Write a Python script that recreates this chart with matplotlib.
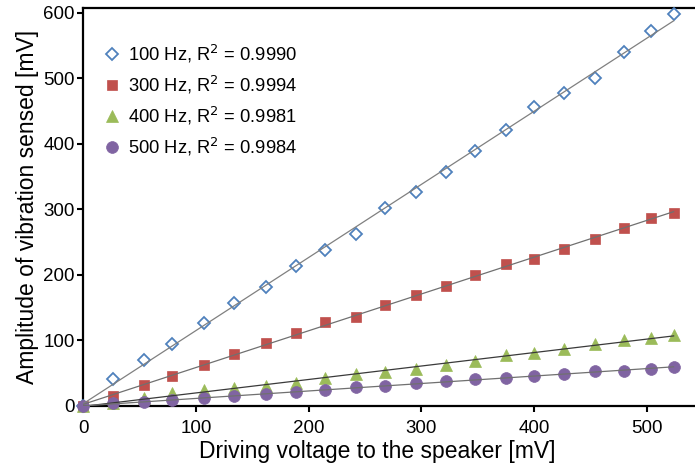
import numpy as np
from matplotlib import pyplot as plt

plt.rcParams['font.family'] = ['Liberation Sans', 'DejaVu Sans']

# driving voltage [mV]
volts = [0, 26, 54, 79, 107, 134, 162, 189, 215, 242, 268,
         295, 322, 348, 375, 400, 427, 454, 480, 504, 524]

# sensed amplitude [mV]
amp_100 = [0, 40.3, 69.3, 93.7, 125.8, 157.3, 181.7, 213.3, 237.3, 261.7, 301.8,
           325.8, 356.8, 388.9, 421.0, 455.6, 476.9, 500.8, 540.5, 572.5, 598.0]
amp_300 = [0, 15.3, 31.1, 45.8, 61.7, 78.5, 95.3, 111.0, 127.3, 135.9, 154.2,
           169.0, 182.7, 199.5, 215.9, 224.0, 238.8, 255.0, 270.8, 287.0, 294.7]
amp_400 = [0, 4.0, 12.0, 19.0, 24.0, 26.5, 30.0, 35.0, 43.0, 48.0, 51.5,
           56.5, 63.0, 69.0, 78.0, 81.0, 87.0, 94.0, 100.0, 103.0, 108.0]
amp_500 = [0, 3.7, 5.2, 9.2, 11.3, 14.8, 17.4, 21.4, 23.5, 28.1, 30.3,
           35.1, 37.7, 40.3, 42.7, 45.8, 47.9, 52.5, 53.4, 56.5, 59.1]

labels = ['100 Hz, R$^2$ = 0.9990', '300 Hz, R$^2$ = 0.9994',
          '400 Hz, R$^2$ = 0.9981', '500 Hz, R$^2$ = 0.9984']

fig = plt.figure(figsize=(6.95, 4.67), dpi=100)
ax = fig.add_axes([0.1198, 0.131, 0.8802, 0.8525])

x = np.array(volts)
series = [
    (amp_100, dict(marker='D', ms=6.5, mfc='white', mec='#4F81BD', mew=1.3), '#808080'),
    (amp_300, dict(marker='s', ms=7.5, mfc='#C0504D', mec='#C0504D', mew=0.5), '#707070'),
    (amp_400, dict(marker='^', ms=8.5, mfc='#9BBB59', mec='#9BBB59', mew=0.5), '#3a3a3a'),
    (amp_500, dict(marker='o', ms=8.5, mfc='#8064A2', mec='#8064A2', mew=0.5), '#707070'),
]
for (y, mk, lc), lab in zip(series, labels):
    ax.plot(x, y, ls='none', label=lab, clip_on=False, zorder=3, **mk)
    k, b = np.polyfit(x, y, 1)
    xs = np.array([0, x[-1]])
    ax.plot(xs, k * xs + b, color=lc, lw=0.9, zorder=4)

ax.set_xlim(0, 543)
ax.set_ylim(0, 607.6)
ax.set_xticks([0, 100, 200, 300, 400, 500])
ax.set_yticks([0, 100, 200, 300, 400, 500, 600])
ax.spines['right'].set_visible(False)
for s in ['left', 'bottom', 'top']:
    ax.spines[s].set_linewidth(1.6)
ax.tick_params(direction='out', length=4, width=1.5, labelsize=13.5)
ax.tick_params(axis='x', pad=6)
ax.tick_params(axis='y', pad=2)

ax.set_xlabel('Driving voltage to the speaker [mV]', fontsize=16.5, labelpad=4)
ax.set_ylabel('Amplitude of vibration sensed [mV]', fontsize=16.5, labelpad=3)
ax.xaxis.set_label_coords(0.48, -0.085)

ax.legend(loc='upper left', frameon=False, fontsize=13.2, handletextpad=0.3,
          labelspacing=0.5, borderaxespad=0.0, handlelength=1.2,
          bbox_to_anchor=(0.017, 0.931))

fig.savefig('out.png', dpi=100)
